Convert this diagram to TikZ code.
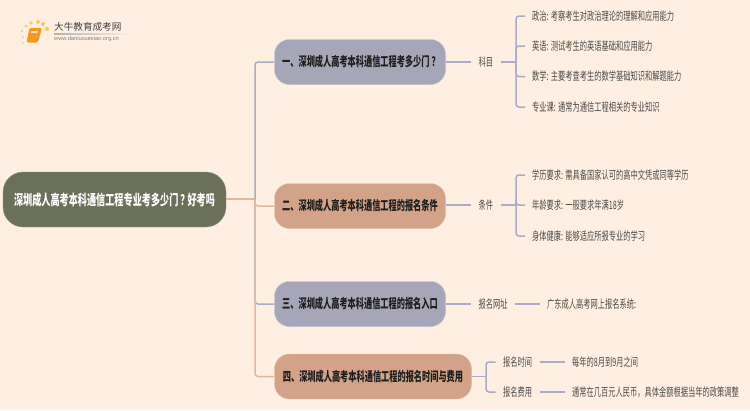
\documentclass[tikz,border=0pt]{standalone}
\usepackage{fontspec}
\setmainfont[FakeStretch=0.63]{Noto Sans CJK SC}
\newfontfamily\logofont{Noto Sans CJK SC}
\newfontfamily\urlfont{Liberation Sans}
\usetikzlibrary{positioning}
\definecolor{paper}{HTML}{FFEFE2}
\definecolor{olive}{HTML}{6A7158}
\definecolor{lilac}{HTML}{A6A6B8}
\definecolor{clay}{HTML}{D2A388}
\definecolor{lilacline}{HTML}{ABABC6}
\definecolor{clayline}{HTML}{E0B8A0}
\definecolor{leaftext}{HTML}{4C4A47}
\definecolor{topictext}{HTML}{1E1E1E}
\definecolor{bookorange}{HTML}{F39A1E}
\definecolor{dotyellow}{HTML}{FBC85A}
\newcommand{\qmark}{\kern2pt？\kern-2pt}
\tikzset{
  rootbox/.style={fill=olive,draw=olive!70!white,rounded corners=20pt,minimum width=223pt,minimum height=55pt,
    inner sep=0pt,text=white,font=\fontsize{14.5}{16}\selectfont\bfseries},
  topicbox/.style={draw=white!30!#1,fill=#1,rounded corners=15pt,minimum height=45pt,inner sep=0pt,
    text=topictext,font=\fontsize{13}{15}\selectfont\bfseries},
  tagbox/.style={anchor=west,inner xsep=7.5pt,inner ysep=1pt,text=leaftext,font=\fontsize{11.5}{13}\selectfont},
  leafbox/.style={anchor=west,inner xsep=7pt,inner ysep=1pt,text=leaftext,font=\fontsize{11.5}{13}\selectfont},
  lilacarr/.style={draw=lilacline,line width=1.5pt,rounded corners=3pt},
  clayarr/.style={draw=clayline,line width=1.5pt,rounded corners=3pt},
}
\begin{document}
\begin{tikzpicture}[x=1pt,y=-1pt]
  \useasboundingbox (0,0) rectangle (750,410);
  \fill[paper] (0,0) rectangle (750,410);

  \foreach \x/\y/\r in {23/43/0.8,23/37/1,22/31/1.2,26/26/1.5,31/23/1.8,38/22/2,43/24/2,47/29/2.2}{
    \fill[dotyellow] (\x,\y) circle (\r);
  }
  \fill[bookorange,rounded corners=1.5pt] (29.5,28) -- (42,28) -- (38,42.5) -- (26.5,42.5) -- cycle;
  \fill[white!70!bookorange] (31.5,31) -- (38,31) -- (37.4,33) -- (31,33) -- cycle;
  \node[inner sep=0pt,anchor=west,text=black!75,font=\logofont\fontsize{9.6}{11}\selectfont] (brand) at (54,27) {大牛教育成考网};
  \node[inner sep=0pt,anchor=west,text=black!50,font=\urlfont\fontsize{5.7}{7}\selectfont] (site) at (54,39) {www.daniuxuexiao.org.cn};
  \shade[left color=black!30,right color=paper] (54,33.5) rectangle (133,34.2);

  \coordinate (spine) at (255,199);
  \node[rootbox] (root) at (114.5,199.5) {深圳成人高考本科通信工程专业考多少门\qmark 好考吗};
  \node[topicbox=lilac,minimum width=171pt] (topicA) at (360,62) {一、深圳成人高考本科通信工程考多少门\qmark};
  \node[topicbox=clay,minimum width=171pt] (topicB) at (360,206) {二、深圳成人高考本科通信工程的报名条件};
  \node[topicbox=lilac,minimum width=171pt] (topicC) at (360,304) {三、深圳成人高考本科通信工程的报名入口};
  \node[topicbox=clay,minimum width=197pt] (topicD) at (373,376.5) {四、深圳成人高考本科通信工程的报名时间与费用};

  \draw[lilacarr] (spine) |- (topicA.west);
  \draw[lilacarr] (spine) |- (topicC.west);
  \draw[clayarr] (root.east |- spine) -- (spine);
  \draw[clayarr] (spine) |- (topicB.west);
  \draw[clayarr] (spine) |- (topicD.west);

  \node[tagbox] (tagA) at (471,62) {科目};
  \node[tagbox] (tagB) at (471,205) {条件};
  \node[tagbox] (tagC) at (471,304) {报名网址};
  \coordinate (forkA) at (516,62);
  \coordinate (forkB) at (516,205);
  \coordinate (forkD) at (486,376.5);
  \draw[lilacarr] (topicA.east) -- (tagA.west);
  \draw[lilacarr] (tagA.east) -- (forkA);
  \draw[lilacarr] (topicB.east |- tagB) -- (tagB.west);
  \draw[lilacarr] (tagB.east) -- (forkB);
  \draw[lilacarr] (topicC.east) -- (tagC.west);
  \draw[lilacarr] (topicD.east) -- (forkD);

  \foreach \n/\y/\t in {a1/16/{政治: 考察考生对政治理论的理解和应用能力},a2/46/{英语: 测试考生的英语基础和应用能力},a3/76.5/{数学: 主要考查考生的数学基础知识和解题能力},a4/107/{专业课: 通常为通信工程相关的专业知识}}{
    \node[leafbox] (\n) at (525,\y) {\t};
    \draw[lilacarr] (forkA) |- (\n.west);
  }
  \foreach \n/\y/\t in {b1/175/{学历要求: 需具备国家认可的高中文凭或同等学历},b2/205/{年龄要求: 一般要求年满18岁},b3/236/{身体健康: 能够适应所报专业的学习}}{
    \node[leafbox] (\n) at (525,\y) {\t};
    \draw[lilacarr] (forkB) |- (\n.west);
  }
  \node[leafbox] (c1) at (540,304) {广东成人高考网上报名系统:};
  \draw[lilacarr] (tagC.east) -- (c1.west);

  \node[tagbox] (tagD1) at (495.5,362) {报名时间};
  \node[tagbox] (tagD2) at (495.5,392) {报名费用};
  \node[leafbox] (d1) at (565,362) {每年的8月到9月之间};
  \node[leafbox] (d2) at (565,392) {通常在几百元人民币，具体金额根据当年的政策调整};
  \draw[lilacarr] (forkD) |- (tagD1.west);
  \draw[lilacarr] (forkD) |- (tagD2.west);
  \draw[lilacarr] (tagD1.east) -- (d1.west);
  \draw[lilacarr] (tagD2.east) -- (d2.west);
\end{tikzpicture}
\end{document}
